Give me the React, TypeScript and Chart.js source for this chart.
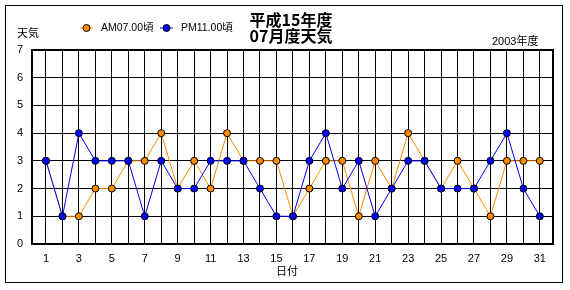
import React, { useEffect, useRef } from "react";
import { Chart, registerables } from "chart.js";

Chart.register(...registerables);

const days: number[] = Array.from({ length: 31 }, (_, i) => i + 1);
const amValues: number[] = [3, 1, 1, 2, 2, 3, 3, 4, 2, 3, 2, 4, 3, 3, 3, 1, 2, 3, 3, 1, 3, 2, 4, 3, 2, 3, 2, 1, 3, 3, 3];
const pmValues: number[] = [3, 1, 4, 3, 3, 3, 1, 3, 2, 2, 3, 3, 3, 2, 1, 1, 3, 4, 2, 3, 1, 2, 3, 3, 2, 2, 2, 3, 4, 2, 1];
const seriesLabels: string[] = ["AM07.00頃", "PM11.00頃"];
const titleLines: string[] = ["平成15年度", "07月度天気"];
const yTitle = "天気";
const xTitle = "日付";
const yearNote = "2003年度";

const ORANGE = "#FF8C00";
const BLUE = "#0000FF";
const FONT = "'Liberation Sans', 'Noto Sans CJK JP', sans-serif";

const decorPlugin = {
  id: "decor",
  beforeDraw(chart: any) {
    const { ctx, width, height } = chart;
    ctx.save();
    ctx.fillStyle = "#ffffff";
    ctx.fillRect(0, 0, width, height);
    ctx.restore();
  },
  afterDraw(chart: any) {
    const { ctx, chartArea } = chart;
    ctx.save();
    // outer frame
    ctx.strokeStyle = "#000";
    ctx.lineWidth = 1;
    ctx.strokeRect(5.5, 5.5, 557, 277);
    // plot frame
    ctx.lineWidth = 2;
    ctx.strokeRect(chartArea.left, chartArea.top, chartArea.right - chartArea.left, chartArea.bottom - chartArea.top);

    // title
    ctx.fillStyle = "#000";
    ctx.textAlign = "center";
    ctx.textBaseline = "middle";
    ctx.font = `bold 16px 'Noto Sans CJK JP', ${FONT}`;
    ctx.fillText(titleLines[0], 291, 20);
    ctx.fillText(titleLines[1], 291, 36);

    // axis titles / notes
    ctx.font = `11px ${FONT}`;
    ctx.textAlign = "left";
    ctx.fillText(yTitle, 17, 34);
    ctx.fillText(yearNote, 492, 42);
    ctx.textAlign = "center";
    ctx.fillText(xTitle, 287, 272);

    // legend
    const items = [
      { x: 80, color: ORANGE, text: seriesLabels[0] },
      { x: 160, color: BLUE, text: seriesLabels[1] },
    ];
    const ly = 28;
    items.forEach((it) => {
      ctx.strokeStyle = it.color;
      ctx.lineWidth = 1;
      ctx.beginPath();
      ctx.moveTo(it.x, ly);
      ctx.lineTo(it.x + 13, ly);
      ctx.stroke();
      ctx.beginPath();
      ctx.arc(it.x + 6.5, ly, 3.5, 0, Math.PI * 2);
      ctx.fillStyle = it.color;
      ctx.fill();
      ctx.strokeStyle = "#000";
      ctx.stroke();
      ctx.fillStyle = "#000";
      ctx.textAlign = "left";
      ctx.font = `10.5px ${FONT}`;
      ctx.fillText(it.text, it.x + 21, ly);
    });
    ctx.restore();
  },
};

export default function App() {
  const ref = useRef<HTMLCanvasElement | null>(null);

  useEffect(() => {
    if (!ref.current) return;
    const chart = new Chart(ref.current, {
      type: "line",
      data: {
        datasets: [
          {
            label: seriesLabels[0],
            data: days.map((d, i) => ({ x: d, y: amValues[i] })),
            borderColor: ORANGE,
            backgroundColor: ORANGE,
            pointBackgroundColor: ORANGE,
            pointBorderColor: "#000",
            pointBorderWidth: 1,
            pointRadius: 3.5,
            borderWidth: 1,
            order: 1,
          },
          {
            label: seriesLabels[1],
            data: days.map((d, i) => ({ x: d, y: pmValues[i] })),
            borderColor: BLUE,
            backgroundColor: BLUE,
            pointBackgroundColor: BLUE,
            pointBorderColor: "#000",
            pointBorderWidth: 1,
            pointRadius: 3.5,
            borderWidth: 1,
            order: 0,
          },
        ],
      },
      options: {
        responsive: false,
        animation: false,
        layout: { padding: { left: 0, top: 50, right: 17, bottom: 0 } },
        plugins: {
          legend: { display: false },
          title: { display: false },
          tooltip: { enabled: false },
        },
        scales: {
          x: {
            type: "linear",
            min: 0.15,
            max: 31.8,
            afterBuildTicks: (axis: any) => {
              axis.ticks = days.map((d) => ({ value: d }));
            },
            afterFit: (axis: any) => {
              axis.height = 46;
            },
            grid: { color: "#000", lineWidth: 1, drawTicks: false },
            border: { display: true, color: "#000", width: 2 },
            ticks: {
              autoSkip: false,
              maxRotation: 0,
              padding: 8,
              color: "#000",
              font: { family: FONT, size: 11 },
              callback: (v: any) => (Number(v) % 2 === 1 ? String(v) : ""),
            },
          },
          y: {
            min: 0,
            max: 7,
            afterFit: (axis: any) => {
              axis.width = 32;
            },
            grid: { color: "#000", lineWidth: 1, drawTicks: false },
            border: { display: true, color: "#000", width: 2 },
            ticks: {
              stepSize: 1,
              padding: 9,
              color: "#000",
              font: { family: FONT, size: 11 },
            },
          },
        },
      },
      plugins: [decorPlugin],
    });
    return () => chart.destroy();
  }, []);

  return (
    <div style={{ position: "absolute", left: 0, top: 0, width: 570, height: 290 }}>
      <canvas ref={ref} width={570} height={290} style={{ display: "block" }} />
    </div>
  );
}
